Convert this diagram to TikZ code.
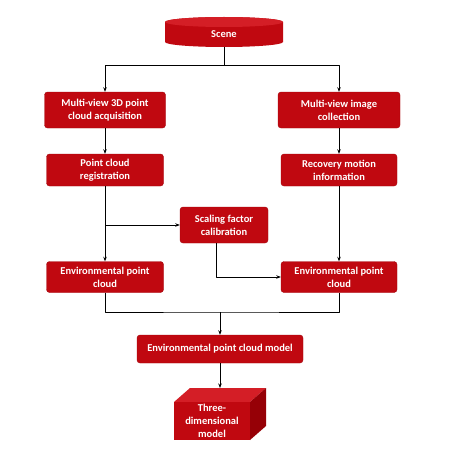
\documentclass[tikz,border=0pt]{standalone}
\usepackage{fontspec}
\setmainfont{Carlito}
\usetikzlibrary{arrows.meta}
\definecolor{boxred}{RGB}{192,8,16}
\definecolor{boxtop}{RGB}{212,30,38}
\definecolor{boxside}{RGB}{150,0,6}
\tikzset{
  stepbox/.style={rectangle, rounded corners=3pt, fill=boxred, draw=boxred!85!black,
    text=white, font=\bfseries\fontsize{10.5}{13}\selectfont, align=center, inner sep=1pt},
  link/.style={line width=0.7pt, black},
}
\begin{document}
\begin{tikzpicture}[x=1pt,y=-1pt,>={Stealth[length=4.5pt,width=3.5pt]}, line join=round]
	\useasboundingbox (0,0) rectangle (450,452);
	% scene cylinder
	\fill[boxred] (165,42) arc[start angle=180,end angle=0,x radius=59,y radius=5]
		-- (283,22) arc[start angle=0,end angle=-180,x radius=59,y radius=5] -- cycle;
	\fill[boxtop] (224,22) ellipse[x radius=59,y radius=5];
	\node[text=white,font=\bfseries\fontsize{10.5}{13}\selectfont] (scene) at (224,34) {Scene};
	\coordinate (scenebot) at (224,47);
	% left branch
	\node[stepbox,minimum width=121pt,minimum height=36pt] (acq) at (105,110) {Multi-view 3D point\\cloud acquisition};
	\node[stepbox,minimum width=117pt,minimum height=32pt] (reg) at (105,170) {Point cloud\\registration};
	\node[stepbox,minimum width=117pt,minimum height=31pt] (envL) at (105,277) {Environmental point\\cloud};
	% right branch
	\node[stepbox,minimum width=122pt,minimum height=36pt] (coll) at (339,110) {Multi-view image\\collection};
	\node[stepbox,minimum width=116pt,minimum height=32pt] (rec) at (339,170) {Recovery motion\\information};
	\node[stepbox,minimum width=116pt,minimum height=31pt] (envR) at (339,277) {Environmental point\\cloud};
	% middle
	\node[stepbox,minimum width=88pt,minimum height=36pt] (scale) at (224,225) {Scaling factor\\calibration};
	\node[stepbox,minimum width=166pt,minimum height=28pt] (model) at (220,349) {Environmental point cloud model};
	% 3D model block
	\fill[boxtop] (174,402) -- (190,388) -- (266,388) -- (250,402) -- cycle;
	\fill[boxside] (250,402) -- (266,388) -- (266,426) -- (250,440) -- cycle;
	\fill[boxred] (174,402) rectangle (250,440);
	\node[text=white,font=\bfseries\fontsize{10.5}{13}\selectfont,align=center] (model3d) at (212,421) {Three-\\dimensional\\model};
	\coordinate (model3dtop) at (220,388);
	% connectors
	\coordinate (split) at (224,65);
	\draw[link] (scenebot) -- (split);
	\draw[link,->] (split) -| (acq.north);
	\draw[link,->] (split) -| (coll.north);
	\draw[link,->] (acq) -- (reg);
	\draw[link,->] (coll) -- (rec);
	\draw[link,->] (reg) -- (envL);
	\draw[link,->] (rec) -- (envR);
	\draw[link,->] (reg.south |- scale.west) -- (scale.west);
	\draw[link,->] ([xshift=-8pt]scale.south) |- (envR.west);
	\coordinate (merge) at (220,312);
	\draw[link] (envL.south) |- (merge) -| (envR.south);
	\draw[link,->] (merge) -- (model.north);
	\draw[link,->] (model.south) -- (model3dtop);
\end{tikzpicture}
\end{document}
